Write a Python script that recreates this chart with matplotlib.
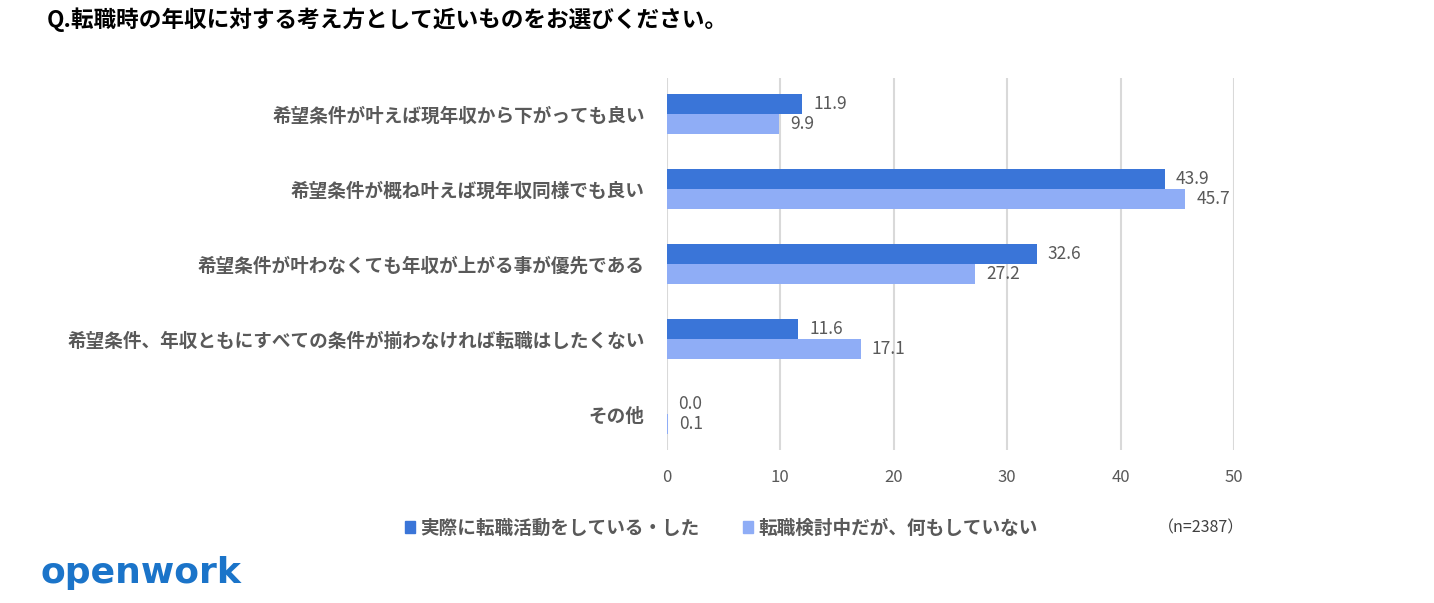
import numpy as np
import matplotlib.pyplot as plt
from matplotlib.patches import Patch

plt.rcParams['font.family'] = ['Noto Sans CJK JP', 'DejaVu Sans']

# Datos
categorias = [
    '希望条件が叶えば現年収から下がっても良い',
    '希望条件が概ね叶えば現年収同様でも良い',
    '希望条件が叶わなくても年収が上がる事が優先である',
    '希望条件、年収ともにすべての条件が揃わなければ転職はしたくない',
    'その他',
]
activo = [11.9, 43.9, 32.6, 11.6, 0.0]
considerando = [9.9, 45.7, 27.2, 17.1, 0.1]
serie_nombres = ['実際に転職活動をしている・した', '転職検討中だが、何もしていない']
xticks = [0, 10, 20, 30, 40, 50]

titulo = 'Q.転職時の年収に対する考え方として近いものをお選びください。'
nota = '（n=2387）'

c_oscuro = '#3A75D8'
c_claro = '#8FADF6'
gris = '#595959'

fig = plt.figure(figsize=(14.34, 6.03), dpi=100)
ax = fig.add_axes([0.4651, 0.2537, 0.3954, 0.6169])

y = np.arange(len(categorias))
h = 0.267
b1 = ax.barh(y - h / 2, activo, height=h, color=c_oscuro, zorder=3)
b2 = ax.barh(y + h / 2, considerando, height=h, color=c_claro, zorder=3)

# Etiquetas de valores
for barras, vals in [(b1, activo), (b2, considerando)]:
    for rect, v in zip(barras, vals):
        ax.annotate(f'{v:.1f}', (v, rect.get_y() + rect.get_height() / 2),
                    xytext=(8, 0), textcoords='offset points',
                    va='center', ha='left', fontsize=12.5, color=gris)

# EJES
ax.set_xlim(0, 50)
ax.set_ylim(len(categorias) - 1 + 0.48, -0.48)
ax.set_xticks(xticks)
ax.set_xticklabels([str(t) for t in xticks], fontsize=12, color=gris)
ax.set_yticks(y)
ax.set_yticklabels(categorias, fontsize=13.4, fontweight='bold', color=gris)
ax.tick_params(axis='both', length=0)
ax.tick_params(axis='x', pad=14)
ax.tick_params(axis='y', pad=16)
ax.grid(axis='x', color='#D9D9D9', linewidth=1.5, zorder=0)
for s in ax.spines.values():
    s.set_visible(False)

# Titulo
fig.text(47 / 1434, 1 - 20 / 603, titulo, fontsize=16.3, fontweight='bold',
         color='black', va='center', ha='left')

# Leyenda
handles = [Patch(color=c_oscuro), Patch(color=c_claro)]
leg = fig.legend(handles, serie_nombres, loc='center left',
                 bbox_to_anchor=(388 / 1434, 1 - 528 / 603), ncol=2,
                 frameon=False, handlelength=0.55, handleheight=0.55,
                 handletextpad=0.3, columnspacing=2.3,
                 prop={'size': 13.4, 'weight': 'bold'})
for t in leg.get_texts():
    t.set_color(gris)

fig.text(1158 / 1434, 1 - 528 / 603, nota, fontsize=11.5, color='#404040',
         va='center', ha='left')

# Logo
fig.text(40 / 1434, 1 - 573 / 603, 'openwork', fontsize=26, fontweight='bold',
         color='#1B74C9', va='center', ha='left', family='DejaVu Sans')

fig.savefig('out.png', dpi=100)
